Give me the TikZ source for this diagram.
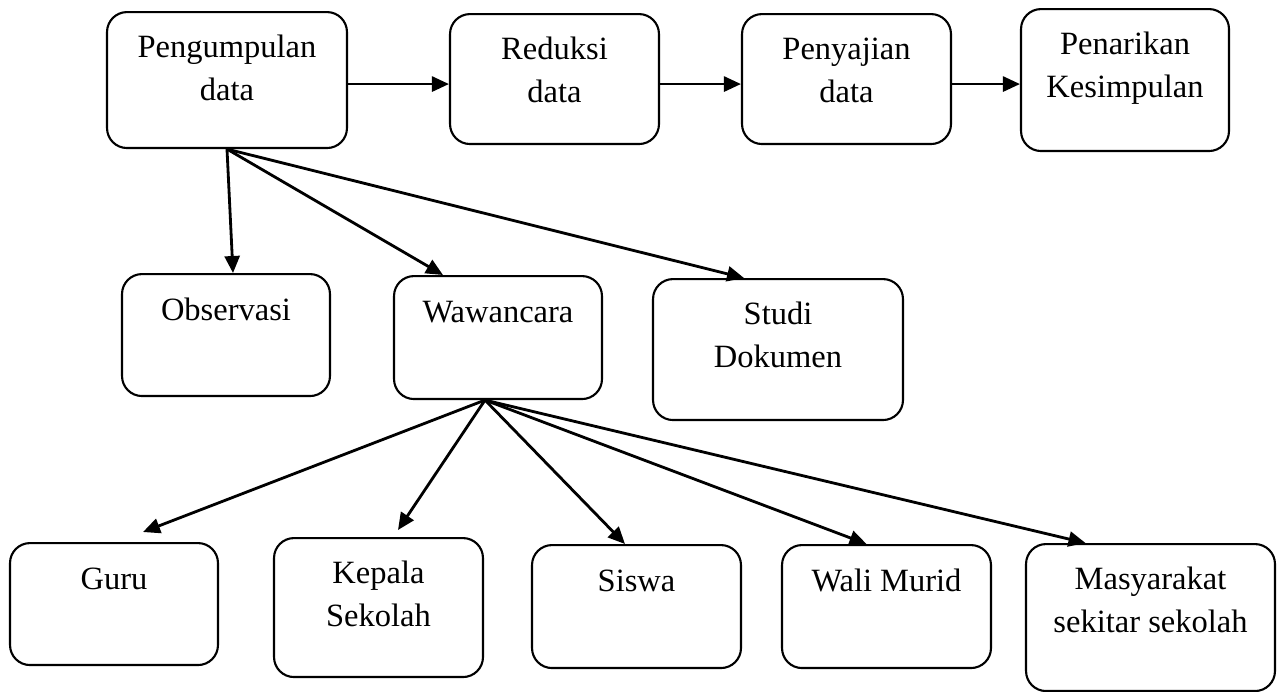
\documentclass[tikz,border=0pt]{standalone}
\usepackage{fontspec}
\setmainfont{Liberation Serif}
\usetikzlibrary{arrows.meta}

\begin{document}
\begin{tikzpicture}[
  x=0.02cm, y=-0.02cm,
  box/.style={rectangle, draw, line width=1.2pt, rounded corners=0.4cm,
              anchor=north, align=center, inner sep=0pt, text height=0.92cm,
              font=\fontsize{18.5pt}{24pt}\selectfont},
  twoline/.style={box, text height=1.76cm},
  flow/.style={-{Triangle[length=0.34cm, width=0.3cm]}, line width=1.6pt},
]
\useasboundingbox (0,0) rectangle (1283,691);

% alur analisis
\node[twoline, minimum width=4.8cm, text depth=0.96cm] (kumpul) at (227,11) {Pengumpulan\\data};
\node[twoline, minimum width=4.18cm, text depth=0.84cm] (reduksi) at (554.5,13) {Reduksi\\data};
\node[twoline, minimum width=4.18cm, text depth=0.84cm] (sajian) at (846.5,13) {Penyajian\\data};
\node[twoline, minimum width=4.16cm, text depth=1.08cm] (tarik) at (1125,8) {Penarikan\\Kesimpulan};

% teknik
\node[box, minimum width=4.16cm, text depth=1.52cm] (obs) at (226,273) {Observasi};
\node[box, minimum width=4.16cm, text depth=1.54cm] (waw) at (498,275) {Wawancara};
\node[twoline, minimum width=5.0cm, text depth=1.06cm] (studi) at (778,278) {Studi\\Dokumen};

% informan
\node[box, minimum width=4.16cm, text depth=1.52cm] (guru) at (114,542) {Guru};
\node[twoline, minimum width=4.18cm, text depth=1.02cm] (kepsek) at (378.5,537) {Kepala\\Sekolah};
\node[box, minimum width=4.18cm, text depth=1.54cm] (siswa) at (636.5,544) {Siswa};
\node[box, minimum width=4.18cm, text depth=1.54cm] (wali) at (886.5,544) {Wali Murid};
\node[twoline, minimum width=4.98cm, text depth=1.18cm] (masy) at (1150.5,543) {Masyarakat\\sekitar sekolah};

\draw[flow] ([yshift=-0.08cm]kumpul.east) -- ([yshift=-0.08cm]kumpul.east -| reduksi.west);
\draw[flow] ([yshift=-0.1cm]reduksi.east) -- ([yshift=-0.1cm]reduksi.east -| sajian.west);
\draw[flow] ([yshift=-0.1cm]sajian.east) -- ([yshift=-0.1cm]sajian.east -| tarik.west);

\draw[flow] (kumpul.south) -- ([xshift=0.14cm]obs.north);
\draw[flow] (kumpul.south) -- ([xshift=-1.1cm]waw.north);
\draw[flow] (kumpul.south) -- ([xshift=-0.68cm]studi.north);

\draw[flow] ([xshift=-0.26cm]waw.south) -- ([shift={(0.58cm,0.2cm)}]guru.north);
\draw[flow] ([xshift=-0.26cm]waw.south) -- ([shift={(0.39cm,0.14cm)}]kepsek.north);
\draw[flow] ([xshift=-0.26cm]waw.south) -- ([xshift=-0.23cm]siswa.north);
\draw[flow] ([xshift=-0.26cm]waw.south) -- ([xshift=-0.4cm]wali.north);
\draw[flow] ([xshift=-0.26cm]waw.south) -- ([xshift=-1.3cm]masy.north);

\end{tikzpicture}
\end{document}
